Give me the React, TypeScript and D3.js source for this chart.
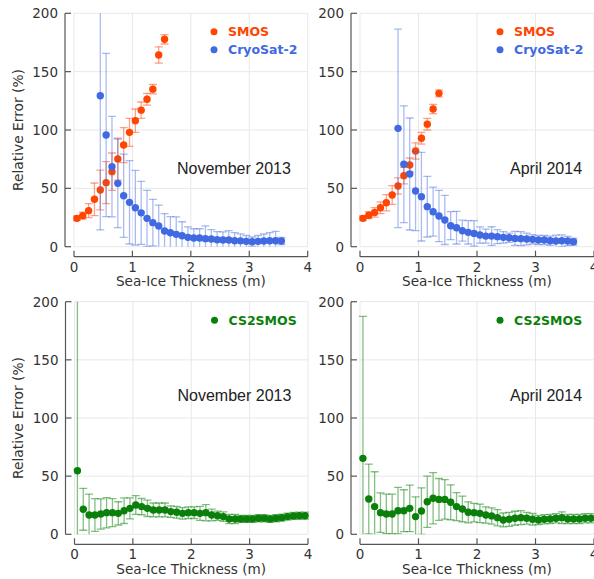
import React from 'react'
import { scaleLinear } from 'd3'

// bin centres of sea-ice thickness (m)
const thickness = [
  0.05, 0.15, 0.25, 0.35, 0.45, 0.55, 0.65, 0.75, 0.85, 0.95,
  1.05, 1.15, 1.25, 1.35, 1.45, 1.55, 1.65, 1.75, 1.85, 1.95,
  2.05, 2.15, 2.25, 2.35, 2.45, 2.55, 2.65, 2.75, 2.85, 2.95,
  3.05, 3.15, 3.25, 3.35, 3.45, 3.55, 3.65, 3.75, 3.85, 3.95,
]

const xTicks = [0, 1, 2, 3, 4]
const yTicks = [0, 50, 100, 150, 200]

// November 2013
const smosNov = [24.3, 26.6, 30.9, 40.6, 48.6, 54.9, 64.3, 75.1, 87.1, 98, 108, 117, 126.3, 135, 164.3, 177.7]
const smosNovErr = [2, 3, 6, 14, 17, 18, 16, 18, 15, 12, 10, 7, 5, 4, 7, 4]
const cryoNov = [
  129.4, 95.7, 68.6, 54.3, 43.7, 38, 33.4, 29, 24.3, 20.6, 17.7, 13.4, 12, 10.6, 9.4, 8,
  7.4, 7.4, 6.9, 6.6, 6, 5.7, 5.7, 5.1, 5, 4.6, 4.3, 4.6, 4.9, 5.1, 5.1, 4.9,
]
const cryoNovErr = [
  115, 70, 43, 38, 35.7, 35.7, 32, 27, 24, 20, 18, 15, 13.7, 15, 12, 9,
  8, 8, 11, 8, 7, 7, 8, 7, 6, 5, 4, 5, 6, 7, 8, 3,
]
const cs2smosNov = [
  54.7, 21.5, 16.6, 16.6, 17.5, 18.6, 18.6, 18, 20.3, 22.3,
  25.2, 23.8, 22.3, 20.9, 20.9, 20.9, 19.5, 18.9, 18, 18.6,
  18.6, 18, 18.6, 16.6, 16, 15.2, 13.2, 13.2, 13.2, 13.2,
  13.2, 13.8, 13.8, 13.2, 13.8, 14.3, 15.2, 15.8, 16, 16,
]
const cs2smosNovErr = [
  150, 18, 18, 14, 13, 13, 12, 10, 11, 9,
  8, 7, 7, 6, 6, 6, 5, 5, 5, 5,
  5, 6, 7, 5, 4, 4, 4, 4, 3, 3,
  3, 3, 3, 3, 3, 3, 3, 3, 3, 3,
]

// April 2014
const smosApr = [24.3, 27, 29.4, 33.4, 37.7, 44.3, 52, 60.9, 70, 82, 92.9, 105, 118, 131.4]
const smosAprErr = [2, 3, 4, 5, 7, 8, 7, 7, 6, 7, 5, 5, 4, 3]
const cryoApr = [
  101.4, 70.6, 62.3, 47.7, 42.9, 34.3, 30, 26.3, 22.9, 18, 16.3, 13.7, 12.3, 11.4, 10, 9.1,
  9.1, 8.6, 8, 7.7, 7.1, 6.9, 6.6, 6.3, 5.7, 5.7, 5.1, 4.9, 5.1, 4.9, 4.3,
]
const cryoAprErr = [
  85, 50, 48, 34, 38, 26, 21, 22, 21, 12, 14, 9, 10, 11, 7, 6,
  8, 6, 5, 4, 6, 6, 5, 4, 4, 4, 4, 5, 5, 4, 3,
]
const cs2smosApr = [
  65.3, 30.4, 23.8, 18.6, 17.5, 17.5, 20.3, 20.3, 22.3, 15.2,
  20, 28, 31, 30, 30, 27.5, 23.8, 21.8, 18.9, 18.6,
  18, 16.6, 15.8, 14.3, 12.3, 12.9, 13.8, 14.3, 13.8, 12.9,
  12.3, 12.9, 13.2, 13.8, 14.3, 13.2, 13.2, 13.2, 13.8, 13.8,
]
const cs2smosAprErr = [
  122, 30, 30, 17, 17, 17, 20, 18, 20, 17,
  20, 22, 22, 18, 17, 15, 12, 11, 9, 8,
  8, 7, 7, 7, 6, 6, 6, 6, 5, 5,
  4, 4, 4, 4, 5, 4, 4, 4, 4, 4,
]

const SMOS = { name: 'SMOS', color: '#ff4500', bar: 'rgba(255,99,60,0.6)' }
const CRYO = { name: 'CryoSat-2', color: '#4169e1', bar: 'rgba(65,105,225,0.45)' }
const CS2 = { name: 'CS2SMOS', color: '#0a7f0a', bar: 'rgba(10,127,10,0.5)' }

type Series = { name: string; color: string; bar: string; x: number[]; y: number[]; err: number[] }

const tickFont = '"DejaVu Sans", sans-serif'

function Panel({ id, left, right, top, bottom, series, label, labelX, yTitle }: {
  id: string; left: number; right: number; top: number; bottom: number
  series: Series[]; label: string; labelX: number; yTitle: boolean
}) {
  const x = scaleLinear().domain([0, 4]).range([left, right])
  const y = scaleLinear().domain([0, 200]).range([bottom, top])
  const axisX = left - 9
  const axisY = bottom + 10

  return (
    <g>
      <defs>
        <clipPath id={id}>
          <rect x={left - 6} y={top} width={right - left + 12} height={bottom - top} />
        </clipPath>
      </defs>
      {/* grid */}
      {xTicks.map((t) => (
        <line key={'gx' + t} x1={x(t)} x2={x(t)} y1={top} y2={bottom} stroke="#e8e8e8" />
      ))}
      {yTicks.map((t) => (
        <line key={'gy' + t} x1={left} x2={right} y1={y(t)} y2={y(t)} stroke="#e8e8e8" />
      ))}

      {/* y axis */}
      <line x1={axisX} x2={axisX} y1={y(200)} y2={y(0)} stroke="#555" strokeWidth={1.2} />
      {yTicks.map((t) => (
        <g key={'yt' + t}>
          <line x1={axisX} x2={axisX + 6} y1={y(t)} y2={y(t)} stroke="#555" strokeWidth={1.2} />
          <text x={axisX - 7} y={y(t)} dy="0.36em" textAnchor="end" fontSize={13.5}
            fontFamily={tickFont} fill="#333">{t}</text>
        </g>
      ))}
      {/* x axis */}
      <line x1={x(0)} x2={x(4)} y1={axisY} y2={axisY} stroke="#555" strokeWidth={1.2} />
      {xTicks.map((t) => (
        <g key={'xt' + t}>
          <line x1={x(t)} x2={x(t)} y1={axisY} y2={axisY - 6} stroke="#555" strokeWidth={1.2} />
          <text x={x(t)} y={axisY + 15} textAnchor="middle" fontSize={13.5}
            fontFamily={tickFont} fill="#333">{t}</text>
        </g>
      ))}
      <text x={(left + right) / 2} y={bottom + 39.5} textAnchor="middle" fontSize={13.6}
        fontFamily={tickFont} fill="#333">Sea-Ice Thickness (m)</text>
      {yTitle && (
        <text transform={`translate(23,${(top + bottom) / 2}) rotate(-90)`} textAnchor="middle"
          fontSize={13.8} fontFamily={tickFont} fill="#333">Relative Error (%)</text>
      )}

      {/* data */}
      <g clipPath={`url(#${id})`}>
        {series.map((s) => (
          <g key={s.name}>
            {s.y.map((v, i) => {
              const hi = v + s.err[i]
              const lo = v - s.err[i]
              const cx = x(s.x[i])
              return (
                <g key={i} stroke={s.bar} strokeWidth={1.3}>
                  <line x1={cx} x2={cx} y1={y(Math.min(hi, 205))} y2={y(Math.max(lo, -3))} />
                  {hi <= 200 && <line x1={cx - 4} x2={cx + 4} y1={y(hi)} y2={y(hi)} />}
                  {lo >= 0 && <line x1={cx - 4} x2={cx + 4} y1={y(lo)} y2={y(lo)} />}
                </g>
              )
            })}
            {s.y.map((v, i) => (
              <circle key={'c' + i} cx={x(s.x[i])} cy={y(v)} r={3.7} fill={s.color} />
            ))}
          </g>
        ))}
      </g>

      {/* legend */}
      {series.map((s, i) => (
        <g key={'lg' + s.name}>
          <circle cx={left + 140} cy={top + 18.5 + i * 18} r={3.5} fill={s.color} />
          <text x={left + 154} y={top + 18.5 + i * 18} dy="0.36em" fontSize={12.5}
            fontWeight="bold" fontFamily={tickFont} fill={s.color}>{s.name}</text>
        </g>
      ))}

      <text x={left + labelX} y={top + (top < 100 ? 161 : 99)} fontSize={16}
        fontFamily='"Liberation Sans", Arial, sans-serif' fill="#222">{label}</text>
    </g>
  )
}

export default function App() {
  const smosN: Series = { ...SMOS, x: thickness.slice(0, smosNov.length), y: smosNov, err: smosNovErr }
  const cryoN: Series = { ...CRYO, x: thickness.slice(4, 4 + cryoNov.length), y: cryoNov, err: cryoNovErr }
  const smosA: Series = { ...SMOS, x: thickness.slice(0, smosApr.length), y: smosApr, err: smosAprErr }
  const cryoA: Series = { ...CRYO, x: thickness.slice(6, 6 + cryoApr.length), y: cryoApr, err: cryoAprErr }
  const csN: Series = { ...CS2, x: thickness, y: cs2smosNov, err: cs2smosNovErr }
  const csA: Series = { ...CS2, x: thickness, y: cs2smosApr, err: cs2smosAprErr }

  return (
    <svg width={594} height={579} style={{ position: 'absolute', left: 0, top: 0, background: '#fff' }}>
      <Panel id="p1" left={74} right={307.7} top={13.3} bottom={246.7} series={[smosN, cryoN]}
        label="November 2013" labelX={103} yTitle />
      <Panel id="p2" left={360} right={594} top={13.3} bottom={246.7} series={[smosA, cryoA]}
        label="April 2014" labelX={150} yTitle={false} />
      <Panel id="p3" left={74.5} right={308} top={301.7} bottom={534.3} series={[csN]}
        label="November 2013" labelX={103} yTitle />
      <Panel id="p4" left={360} right={594} top={301.7} bottom={534.3} series={[csA]}
        label="April 2014" labelX={150} yTitle={false} />
    </svg>
  )
}
